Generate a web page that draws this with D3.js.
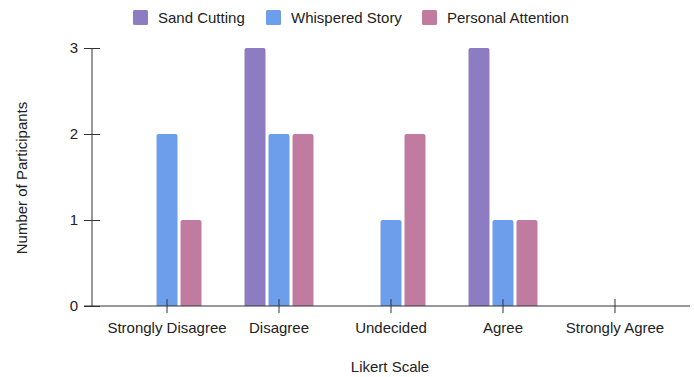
<!DOCTYPE html>
<html>
<head>
<meta charset="utf-8">
<script src="https://cdn.jsdelivr.net/npm/d3@7"></script>
<style>
  html, body { margin: 0; padding: 0; background: #fff; }
  svg { display: block; font-family: "Liberation Sans", Arial, Helvetica, sans-serif; }
</style>
</head>
<body>
<svg id="chart" width="694" height="377"></svg>
<script>
// Likert responses per condition
const categories = ["Strongly Disagree", "Disagree", "Undecided", "Agree", "Strongly Agree"];
const seriesNames = ["Sand Cutting", "Whispered Story", "Personal Attention"];
const sandCutting = [0, 3, 0, 3, 0];
const whisperedStory = [2, 2, 1, 1, 0];
const personalAttention = [1, 2, 2, 1, 0];
const yTicks = [0, 1, 2, 3];
const colors = ["#8e7cc3", "#6d9eeb", "#c27ba0"];

const seriesValues = [sandCutting, whisperedStory, personalAttention];

const svg = d3.select("#chart");
const plotLeft = 92, plotRight = 690, plotTop = 48, plotBottom = 306;
const fontFamily = "Liberation Sans, Arial, sans-serif";
const fontSize = 15;

const x = d3.scaleBand().domain(categories).range([plotLeft, plotRight]).paddingOuter(0.17).paddingInner(0);
const y = d3.scaleLinear().domain([0, 3]).range([plotBottom, plotTop]);

const barW = 21, barStep = 24;
const inner = d3.scaleBand().domain(seriesNames).range([0, barStep * 3]).paddingInner(0);

// bars
const groups = svg.append("g").selectAll("g")
  .data(categories)
  .join("g")
  .attr("transform", d => `translate(${x(d) + x.bandwidth() / 2 - barStep * 1.5 + 1.5},0)`);

groups.selectAll("path")
  .data((c, i) => seriesNames.map((s, j) => ({ s, j, v: seriesValues[j][i] })).filter(d => d.v > 0))
  .join("path")
  .attr("fill", d => colors[d.j])
  .attr("d", d => {
    const x0 = inner(d.s), y0 = y(d.v), w = barW, r = 2;
    return `M${x0},${plotBottom}V${y0 + r}Q${x0},${y0} ${x0 + r},${y0}H${x0 + w - r}Q${x0 + w},${y0} ${x0 + w},${y0 + r}V${plotBottom}Z`;
  });

// y axis
const yAxis = svg.append("g")
  .attr("transform", `translate(${plotLeft},0)`)
  .call(d3.axisLeft(y).tickValues(yTicks).tickFormat(d3.format("d")).tickSize(8).tickPadding(5));
yAxis.selectAll(".tick line").attr("x2", 8).attr("x1", -8).attr("stroke", "#333");
yAxis.select(".domain").attr("d", `M0,${plotTop}V${plotBottom}`).attr("stroke", "#333");
yAxis.selectAll(".tick text").attr("x", -14).attr("font-size", fontSize).attr("fill", "#222")
  .attr("font-family", fontFamily);

// x axis
const xAxis = svg.append("g")
  .attr("transform", `translate(0,${plotBottom})`)
  .call(d3.axisBottom(x).tickSize(7).tickPadding(8));
xAxis.select(".domain").attr("d", `M${plotLeft - 8},0H${plotRight}`).attr("stroke", "#333");
xAxis.selectAll(".tick line").attr("y1", -7).attr("y2", 7).attr("stroke", "#333");
xAxis.selectAll(".tick text").attr("y", 16).attr("font-size", fontSize).attr("fill", "#222")
  .attr("font-family", fontFamily);

// axis titles
svg.append("text")
  .attr("x", (plotLeft + plotRight) / 2 - 1).attr("y", 372)
  .attr("text-anchor", "middle").attr("font-size", fontSize).attr("fill", "#222")
  .text("Likert Scale");

svg.append("text")
  .attr("transform", `translate(27,${(plotTop + plotBottom) / 2 + 1}) rotate(-90)`)
  .attr("text-anchor", "middle").attr("font-size", fontSize).attr("fill", "#222")
  .text("Number of Participants");

// legend
const legendX = [133, 266, 422];
const legend = svg.append("g").selectAll("g")
  .data(seriesNames)
  .join("g")
  .attr("transform", (d, i) => `translate(${legendX[i]},10)`);
legend.append("rect").attr("width", 15).attr("height", 15).attr("rx", 1.5)
  .attr("fill", (d, i) => colors[i]);
legend.append("text").attr("x", 25).attr("y", 13)
  .attr("font-size", fontSize).attr("fill", "#222").text(d => d);
</script>
</body>
</html>
